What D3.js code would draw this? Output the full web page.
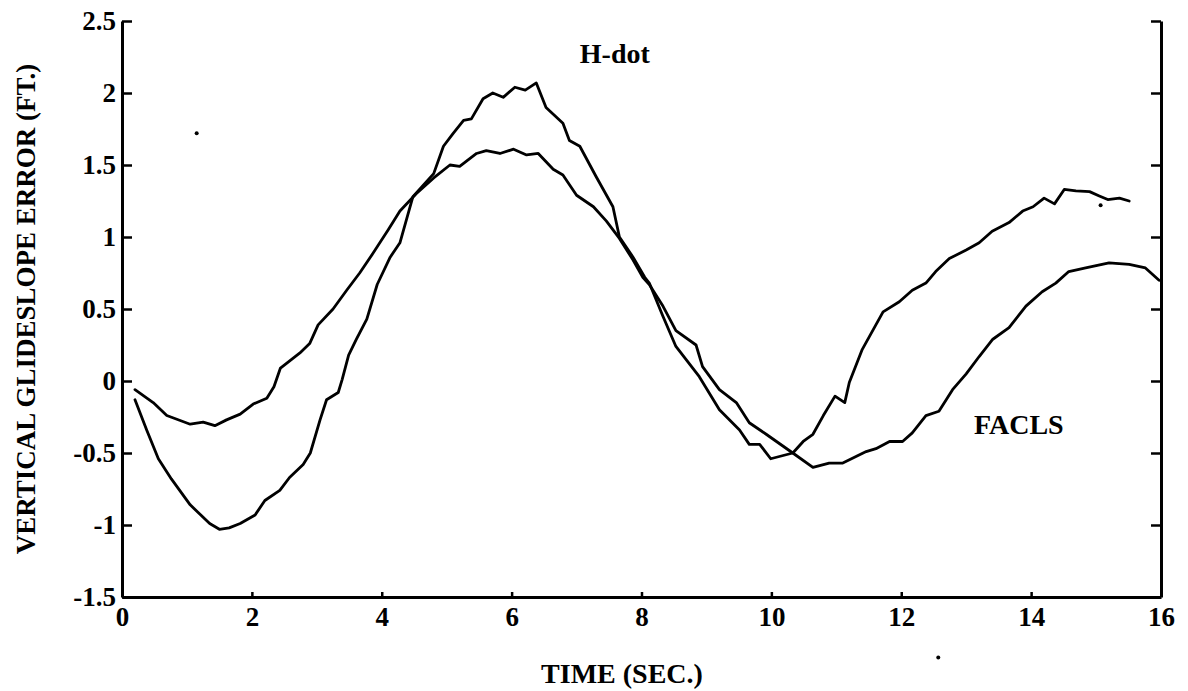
<!DOCTYPE html>
<html>
<head>
<meta charset="utf-8">
<title>Vertical glideslope error</title>
<script src="https://cdn.jsdelivr.net/npm/d3@7"></script>
<style>
  body { margin: 0; background: #fff; }
  svg text { font-family: "Liberation Serif", "Times New Roman", serif; font-weight: bold; fill: #000; }
</style>
</head>
<body>
<script>
  // big swing curve (labelled H-dot)
  var hdotT = [0.2, 0.38, 0.56, 0.76, 1.05, 1.35, 1.5, 1.65, 1.82, 2.05, 2.2, 2.43, 2.58, 2.79, 2.9,
    3.05, 3.15, 3.33, 3.39, 3.49, 3.61, 3.77, 3.93, 4.13, 4.28, 4.48, 4.8, 4.95, 5.1, 5.26, 5.38,
    5.56, 5.71, 5.87, 6.05, 6.21, 6.38, 6.53, 6.79, 6.89, 7.05, 7.3, 7.56, 7.66, 7.87, 8.05, 8.12,
    8.33, 8.53, 8.89, 9.2, 9.51, 9.66, 9.82, 9.99, 10.33, 10.49, 10.64, 10.8, 10.98, 11.13, 11.2,
    11.4, 11.72, 11.97, 12.17, 12.38, 12.53, 12.74, 13.0, 13.2, 13.4, 13.66, 13.87, 14.03, 14.2,
    14.36, 14.51, 14.69, 14.9, 15.05, 15.18, 15.36, 15.51];
  var hdotV = [-0.13, -0.34, -0.54, -0.68, -0.86, -0.99, -1.03, -1.02, -0.99, -0.93, -0.83, -0.76, -0.67, -0.58, -0.5,
    -0.27, -0.13, -0.08, 0.01, 0.18, 0.29, 0.43, 0.67, 0.86, 0.96, 1.28, 1.44, 1.63, 1.72, 1.81, 1.82,
    1.96, 2.0, 1.97, 2.04, 2.02, 2.07, 1.9, 1.79, 1.67, 1.63, 1.42, 1.21, 1.0, 0.86, 0.72, 0.68,
    0.45, 0.24, 0.03, -0.2, -0.34, -0.44, -0.44, -0.54, -0.5, -0.42, -0.37, -0.24, -0.105, -0.15, -0.01,
    0.22, 0.48, 0.55, 0.63, 0.68, 0.76, 0.85, 0.91, 0.96, 1.04, 1.1, 1.18, 1.21, 1.27,
    1.23, 1.33, 1.32, 1.315, 1.285, 1.26, 1.27, 1.25];

  // smaller curve (labelled FACLS)
  var faclsT = [0.2, 0.48, 0.69, 1.05, 1.25, 1.43, 1.61, 1.82, 2.02, 2.23, 2.34, 2.44, 2.74, 2.89, 3.02,
    3.25, 3.46, 3.66, 3.87, 4.1, 4.28, 4.53, 4.8, 5.05, 5.2, 5.46, 5.61, 5.82, 6.03, 6.23, 6.41,
    6.64, 6.79, 7.0, 7.26, 7.46, 7.66, 7.87, 8.02, 8.12, 8.33, 8.53, 8.84, 8.94, 9.2, 9.46, 9.66,
    9.92, 10.33, 10.64, 10.89, 11.1, 11.46, 11.61, 11.82, 12.02, 12.17, 12.38, 12.58, 12.79, 13.0,
    13.2, 13.41, 13.66, 13.92, 14.17, 14.38, 14.58, 14.84, 15.2, 15.51, 15.76, 15.97];
  var faclsV = [-0.06, -0.15, -0.24, -0.3, -0.285, -0.31, -0.27, -0.23, -0.16, -0.12, -0.04, 0.09, 0.195, 0.26, 0.39,
    0.5, 0.63, 0.75, 0.89, 1.05, 1.18, 1.3, 1.41, 1.5, 1.49, 1.58, 1.6, 1.58, 1.61, 1.57, 1.58,
    1.47, 1.43, 1.29, 1.21, 1.11, 0.99, 0.84, 0.72, 0.67, 0.52, 0.35, 0.25, 0.1, -0.06, -0.15, -0.29,
    -0.37, -0.5, -0.6, -0.57, -0.57, -0.49, -0.47, -0.42, -0.42, -0.36, -0.24, -0.21, -0.06, 0.05,
    0.17, 0.29, 0.37, 0.52, 0.62, 0.68, 0.76, 0.785, 0.82, 0.81, 0.785, 0.7];

  var xTicks = [0, 2, 4, 6, 8, 10, 12, 14, 16];
  var yTicks = [-1.5, -1, -0.5, 0, 0.5, 1, 1.5, 2, 2.5];

  // curve labels: text, time, value
  var labelText = ['H-dot', 'FACLS'];
  var labelT = [7.05, 13.12];
  var labelV = [2.21, -0.37];

  // specks of dirt on the scan
  var speckT = [1.15, 15.07, 12.57];
  var speckV = [1.72, 1.22, -1.92];

  var width = 1188, height = 691,
    margin = {top: 21, right: 27, bottom: 94, left: 122},
    plotW = width - margin.left - margin.right,
    plotH = height - margin.top - margin.bottom;

  var svg = d3.select('body').append('svg')
    .attr('width', width)
    .attr('height', height);

  var g = svg.append('g')
    .attr('transform', 'translate(' + margin.left + ',' + margin.top + ')');

  var x = d3.scaleLinear().domain([0, 16]).range([0, plotW]);
  var y = d3.scaleLinear().domain([-1.5, 2.5]).range([plotH, 0]);

  function styleAxis(sel) {
    sel.selectAll('path').attr('stroke', '#000').attr('stroke-width', 3);
    sel.selectAll('line').attr('stroke', '#000').attr('stroke-width', 2.5);
    sel.selectAll('text').attr('font-size', 27);
  }

  g.append('g')
    .call(d3.axisLeft(y).tickValues(yTicks).tickFormat(function (d) { return String(d); })
      .tickSize(-10).tickSizeOuter(0).tickPadding(6))
    .call(styleAxis);

  g.append('g')
    .attr('transform', 'translate(' + plotW + ',0)')
    .call(d3.axisRight(y).tickValues(yTicks).tickFormat('')
      .tickSize(-10).tickSizeOuter(0))
    .call(styleAxis);

  g.append('g')
    .attr('transform', 'translate(0,' + plotH + ')')
    .call(d3.axisBottom(x).tickValues(xTicks).tickFormat(function (d) { return String(d); })
      .tickSize(-5).tickSizeOuter(0).tickPadding(10))
    .call(styleAxis);

  var line = d3.line()
    .x(function (d) { return x(d[0]); })
    .y(function (d) { return y(d[1]); });

  [[hdotT, hdotV], [faclsT, faclsV]].forEach(function (s) {
    g.append('path')
      .datum(d3.zip(s[0], s[1]))
      .attr('d', line)
      .attr('fill', 'none')
      .attr('stroke', '#000')
      .attr('stroke-width', 2.8)
      .attr('stroke-linejoin', 'round')
      .attr('stroke-linecap', 'round');
  });

  labelText.forEach(function (t, i) {
    g.append('text')
      .attr('x', x(labelT[i]))
      .attr('y', y(labelV[i]))
      .attr('font-size', 28)
      .text(t);
  });

  speckT.forEach(function (t, i) {
    g.append('circle')
      .attr('cx', x(t))
      .attr('cy', y(speckV[i]))
      .attr('r', 2)
      .attr('fill', '#000');
  });

  // axis titles
  svg.append('text')
    .attr('x', 622)
    .attr('y', 683)
    .attr('text-anchor', 'middle')
    .attr('font-size', 28)
    .text('TIME (SEC.)');

  svg.append('text')
    .attr('transform', 'translate(35,' + (margin.top + plotH / 2) + ') rotate(-90)')
    .attr('text-anchor', 'middle')
    .attr('font-size', 27)
    .text('VERTICAL GLIDESLOPE ERROR (FT.)');
</script>
</body>
</html>
